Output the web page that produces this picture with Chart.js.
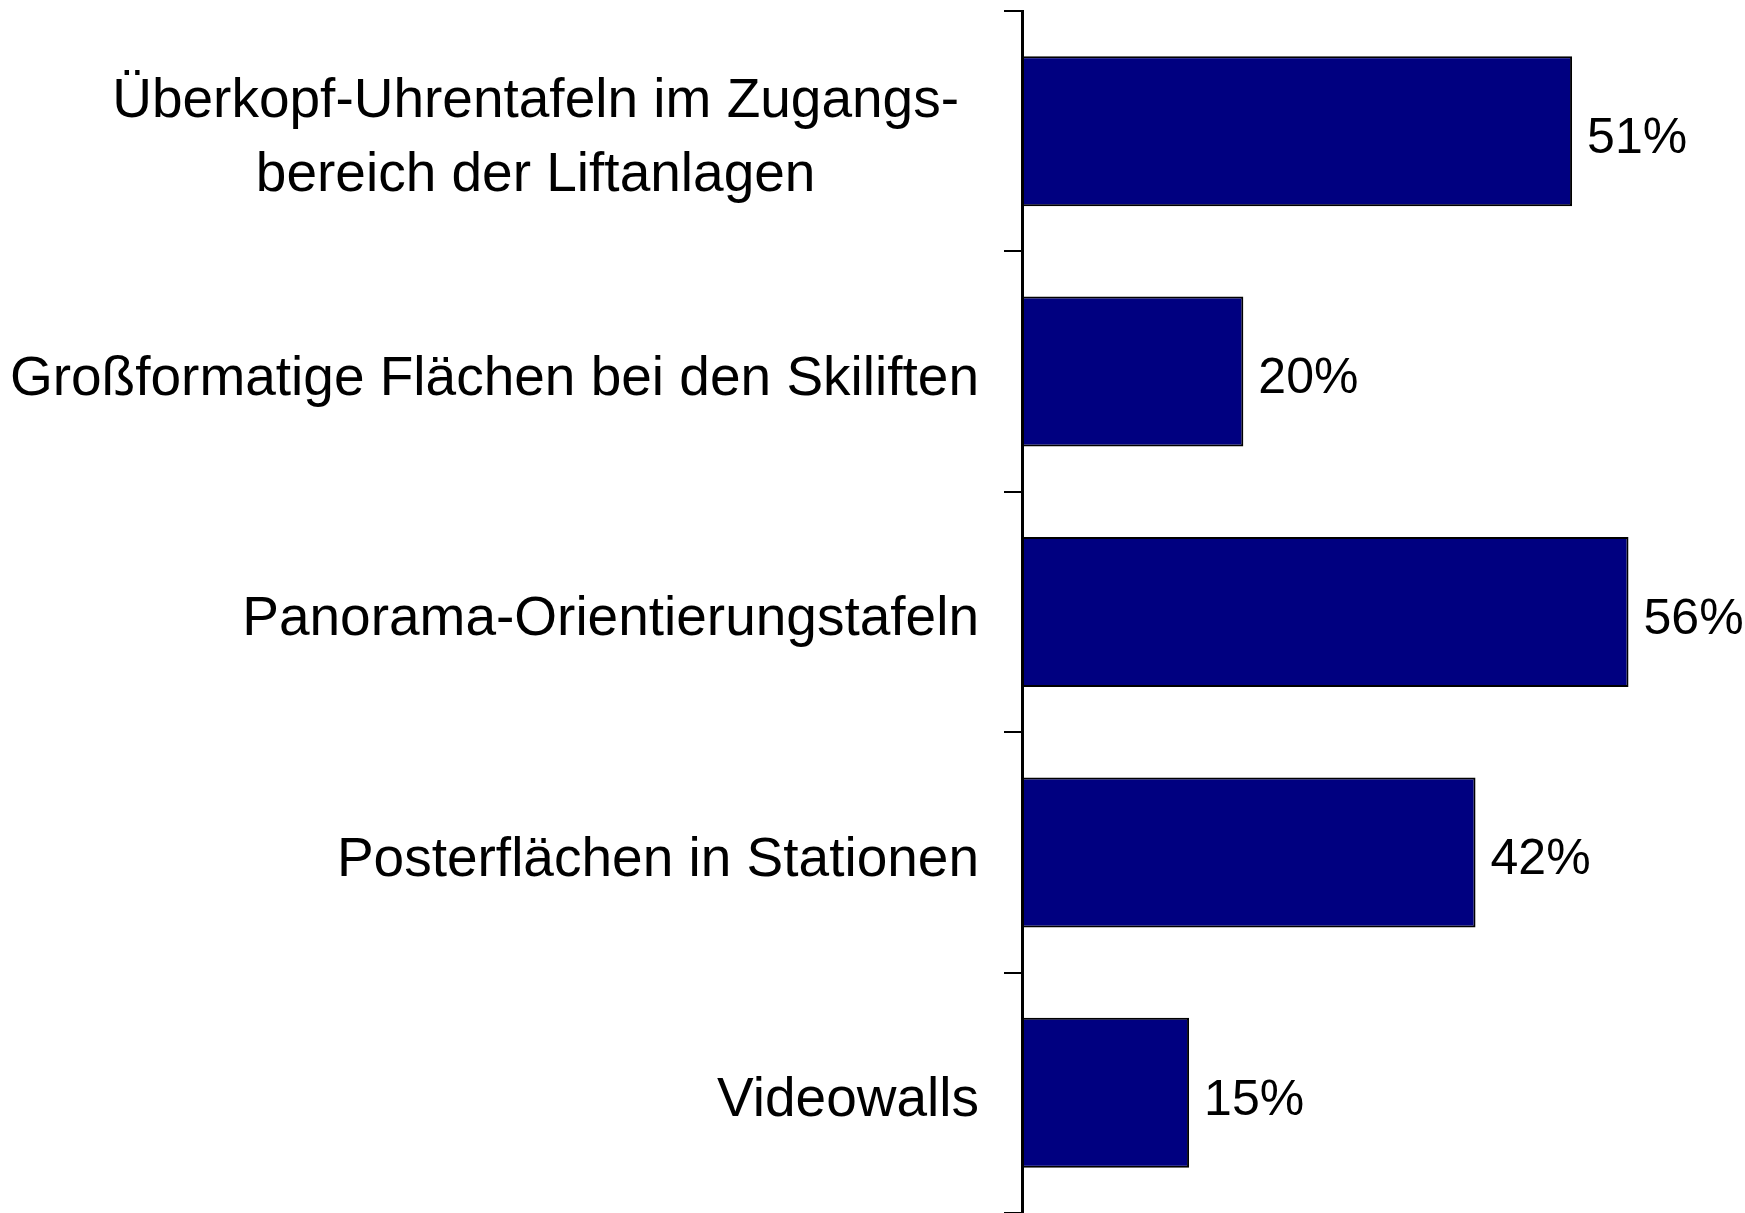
<!DOCTYPE html>
<html>
<head>
<meta charset="utf-8">
<script src="https://cdn.jsdelivr.net/npm/chart.js@4.4.0/dist/chart.umd.min.js"></script>
<style>
  html, body { margin: 0; padding: 0; background: #fff; }
</style>
</head>
<body>
<canvas id="barChart" width="1745" height="1213"></canvas>
<script>
// categories (first one wraps onto two lines, centred)
var categories = [
  ["Überkopf-Uhrentafeln im Zugangs-", "bereich der Liftanlagen"],
  "Großformatige Flächen bei den Skiliften",
  "Panorama-Orientierungstafeln",
  "Posterflächen in Stationen",
  "Videowalls"
];
// shares in percent
var values = [50.7, 20.4, 55.9, 41.8, 15.4];
var axisMax = 60;

var labelFont = '55px "Liberation Sans", Arial, sans-serif';
var valueFont = '50px "Liberation Sans", Arial, sans-serif';

// draws the category names left of the axis and the % labels at the bar ends
var textPlugin = {
  id: 'barTexts',
  afterDraw: function(chart) {
    var ctx = chart.ctx;
    var yScale = chart.scales.y;
    var right = yScale.left - 25;
    var dy = 8;
    ctx.save();
    ctx.fillStyle = '#000';
    ctx.font = labelFont;
    ctx.textBaseline = 'middle';
    for (var i = 0; i < categories.length; i++) {
      var y = yScale.getPixelForValue(i) + dy;
      var lab = categories[i];
      if (Array.isArray(lab)) {
        var w = 0;
        for (var k = 0; k < lab.length; k++) w = Math.max(w, ctx.measureText(lab[k]).width);
        var cx = right - 20 - w / 2;
        var lh = 74;
        ctx.textAlign = 'center';
        for (var k = 0; k < lab.length; k++) {
          ctx.fillText(lab[k], cx, y + (k - (lab.length - 1) / 2) * lh);
        }
      } else {
        ctx.textAlign = 'right';
        ctx.fillText(lab, right, y);
      }
    }
    ctx.font = valueFont;
    ctx.textAlign = 'left';
    var meta = chart.getDatasetMeta(0);
    meta.data.forEach(function(bar, i) {
      ctx.fillText(Math.round(values[i]) + '%', bar.x + 15, bar.y + dy);
    });
    ctx.restore();
  }
};

var ctxB = document.getElementById('barChart').getContext('2d');
var myBarChart = new Chart(ctxB, {
  type: 'bar',
  data: {
    labels: categories,
    datasets: [{
      data: values,
      backgroundColor: '#000080',
      borderColor: '#000000',
      borderWidth: 2,
      borderSkipped: false,
      barPercentage: 0.624,
      categoryPercentage: 1.0
    }]
  },
  options: {
    indexAxis: 'y',
    responsive: false,
    animation: false,
    devicePixelRatio: 1,
    layout: {
      padding: { left: 1004, top: 11, right: 72, bottom: 0 }
    },
    plugins: {
      legend: { display: false },
      tooltip: { enabled: false }
    },
    scales: {
      x: {
        display: false,
        min: 0,
        max: axisMax
      },
      y: {
        grid: {
          display: true,
          drawOnChartArea: false,
          drawTicks: true,
          tickLength: 18,
          color: '#000',
          lineWidth: 2,
          offset: true
        },
        border: { display: true, color: '#000', width: 3 },
        ticks: { display: false }
      }
    }
  },
  plugins: [textPlugin]
});
</script>
</body>
</html>
